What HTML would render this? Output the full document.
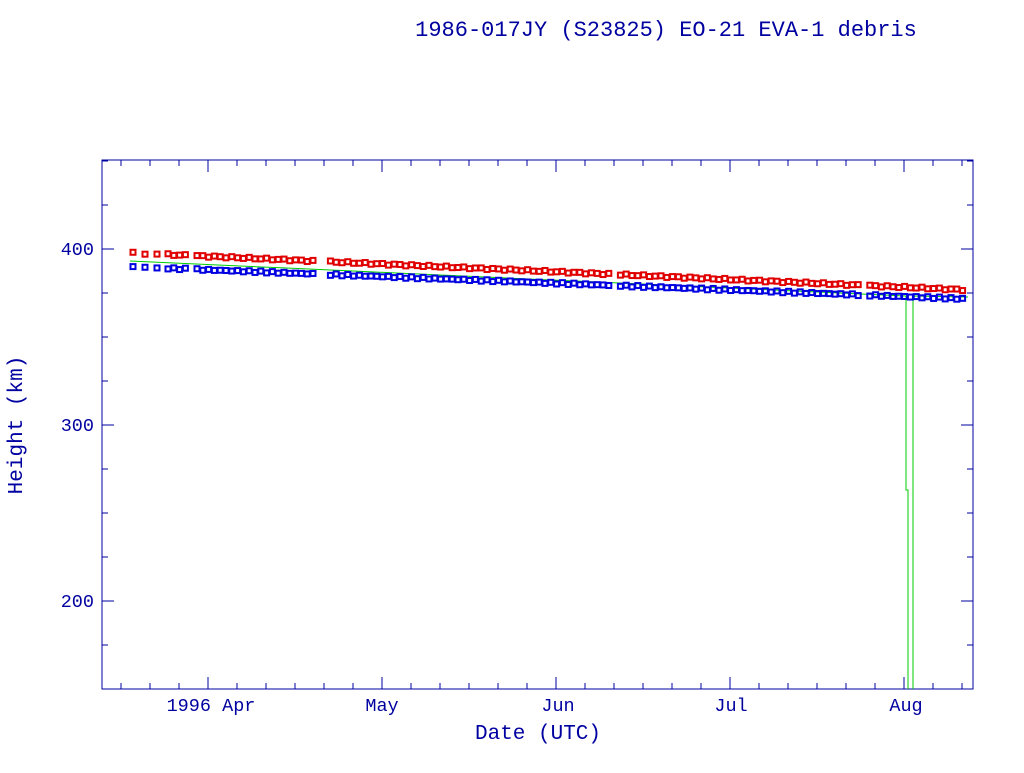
<!DOCTYPE html>
<html><head><meta charset="utf-8"><style>
body{margin:0;background:#fff;width:1024px;height:768px;overflow:hidden}
text{font-family:"Liberation Mono","DejaVu Sans Mono",monospace;fill:#0000a0}
</style></head><body>
<svg id="s" width="1024" height="768" xmlns="http://www.w3.org/2000/svg">
<text x="666" y="36" font-size="22" text-anchor="middle">1986-017JY (S23825) EO-21 EVA-1 debris</text>
<rect x="102" y="160" width="871" height="529" fill="none" stroke="#0000a0" stroke-width="1"/>
<g id="ax" stroke="#0000a0" stroke-width="1"></g>
<g font-size="18.5">
<text x="94" y="255" text-anchor="end">400</text>
<text x="94" y="431" text-anchor="end">300</text>
<text x="94" y="607" text-anchor="end">200</text>
<text x="211" y="711" text-anchor="middle">1996 Apr</text>
<text x="382" y="711" text-anchor="middle">May</text>
<text x="558" y="711" text-anchor="middle">Jun</text>
<text x="731" y="711" text-anchor="middle">Jul</text>
<text x="906" y="711" text-anchor="middle">Aug</text>
</g>
<text x="538" y="739" font-size="21" text-anchor="middle">Date (UTC)</text>
<text transform="translate(22,425) rotate(-90)" font-size="21" text-anchor="middle">Height (km)</text>
<g id="g" fill="none" stroke="#00cc00" stroke-width="1"></g>
<g id="r" fill="none" stroke="#e00000" stroke-width="2"></g>
<g id="b" fill="none" stroke="#0000e0" stroke-width="2"></g>
</svg>
<script>
var ns="http://www.w3.org/2000/svg";
function el(p,t,a){var e=document.createElementNS(ns,t);for(var k in a)e.setAttribute(k,a[k]);document.getElementById(p).appendChild(e);}
for(var v=150;v<=450;v+=25){var y=689-(v-150)*1.76;var L=(v%100==0)?12:6;
el('ax','line',{x1:102,y1:y,x2:102+L,y2:y});el('ax','line',{x1:973,y1:y,x2:973-L,y2:y});}
for(var x=121;x<973;x+=29){var m=[208,382,558,731,906].some(function(q){return Math.abs(q-x)<4});var L=m?12:6;
el('ax','line',{x1:x,y1:689,x2:x,y2:689-L});el('ax','line',{x1:x,y1:160,x2:x,y2:160+L});}
var pts="M130 261";
for(var x=130;x<=906;x+=22){var y=261+(x-130)/(906-130)*35;pts+=" L"+x+" "+y.toFixed(1);}
pts+=" L906 296 L906 490 L908 490 L908 689 M913 689 L913 296 L968 297";
el('g','path',{d:pts});
var gaps=[[191,196],[297,300],[318,328],[612,616],[860,868]];
var xs=[133,145,157];
for(var x=168;x<=968;x+=5.8)xs.push(x);
xs.forEach(function(x){
 if(gaps.some(function(g){return x>g[0]&&x<g[1]}))return;
 var t=(x-133)/835;
 var yr=253+t*37+Math.sin(x*0.7)*0.8, yb=267+t*32+Math.sin(x*0.5)*0.8;
 el('r','rect',{x:x-2.5,y:yr-2.5,width:5,height:5});
 el('b','rect',{x:x-2.5,y:yb-2.5,width:5,height:5});
});
</script>
</body></html>
